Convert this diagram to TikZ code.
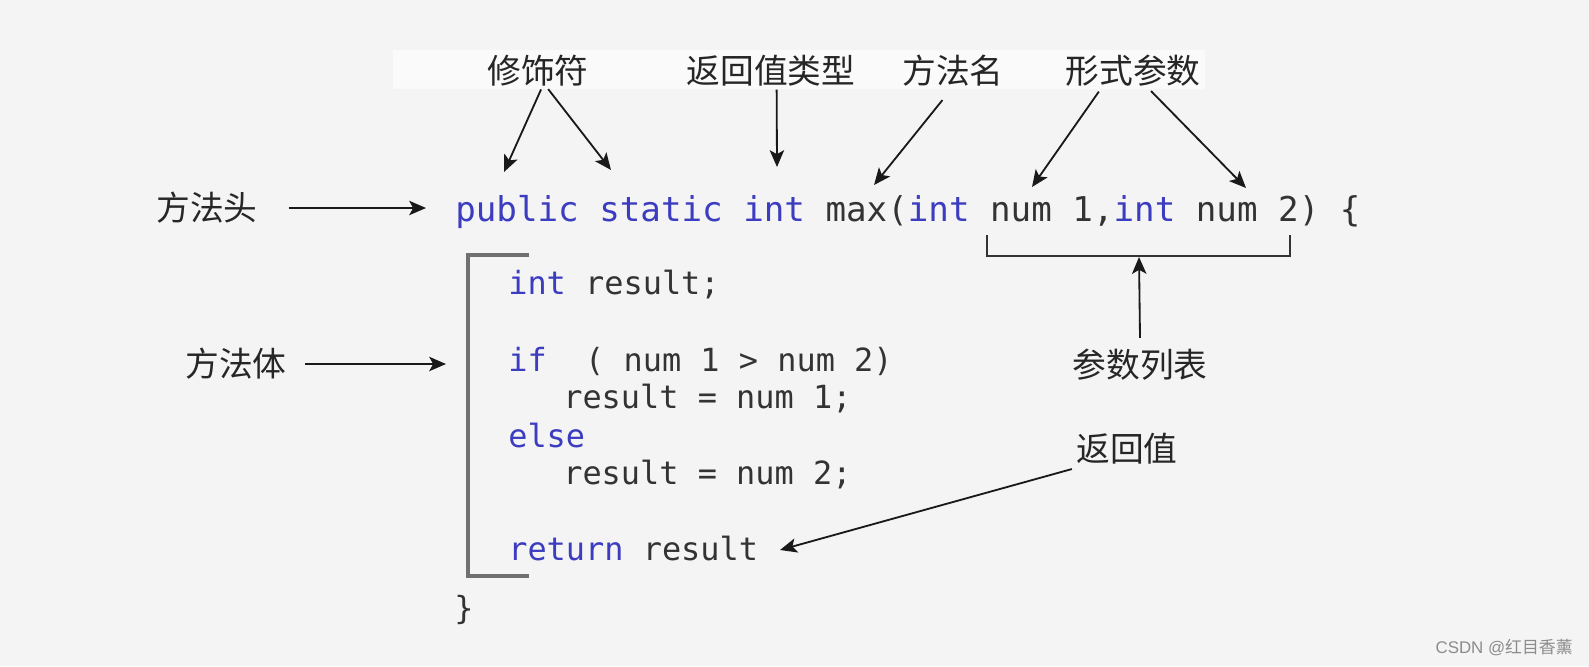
\documentclass[tikz,border=0pt]{standalone}
\usepackage{fontspec}
\setmonofont{DejaVu Sans Mono}
\newfontfamily\cjk{Noto Sans CJK SC}
\newfontfamily\wmfont{Liberation Sans}
\usetikzlibrary{arrows.meta}
\definecolor{bgcol}{RGB}{244,244,244}
\definecolor{bandcol}{RGB}{250,250,251}
\definecolor{kwcol}{RGB}{60,60,192}
\definecolor{txtcol}{RGB}{51,51,51}
\definecolor{brackcol}{RGB}{112,112,112}
\newcommand{\kw}[1]{\textcolor{kwcol}{#1}}

\begin{document}
\begin{tikzpicture}[
  x=0.025cm, y=-0.025cm,
  lbl/.style={font=\cjk\fontsize{24}{28}\selectfont, text=black!85, inner sep=0pt},
  headcode/.style={font=\ttfamily\fontsize{24.3}{28}\selectfont, text=txtcol, anchor=base west, inner sep=0pt},
  bodycode/.style={font=\ttfamily\fontsize{22.7}{26}\selectfont, text=txtcol, anchor=base west, inner sep=0pt},
  arr/.style={-{Stealth[length=4.2mm,width=3.6mm,inset=1mm]}, line width=1.3pt, black!90}
]%
  % Background
  \fill[bgcol] (0,0) rectangle (1589,666);
  \useasboundingbox (0,0) rectangle (1589,666);
  \fill[bandcol] (393,50) rectangle (1205,89);

  % Labels
  \node[lbl] (mod) at (538,71) {修饰符};
  \node[lbl] (rtype) at (771,71) {返回值类型};
  \node[lbl] (mname) at (953,71) {方法名};
  \node[lbl] (param) at (1133,71) {形式参数};
  \node[lbl] (mhead) at (207,208) {方法头};
  \node[lbl] (mbody) at (236,364) {方法体};
  \node[lbl] (plist) at (1140,365) {参数列表};
  \node[lbl] (retv) at (1127,449) {返回值};

  % Code
  \node[headcode] (head) at (455,221)
    {\kw{public} \kw{static} \kw{int} max(\kw{int} num 1,\kw{int} num 2) \{};
  \node[bodycode] (decl) at (508,294) {\kw{int} result;};
  \node[bodycode] (cond) at (508,371) {\kw{if}\ \ ( num 1 > num 2)};
  \node[bodycode] (then) at (563,408) {result = num 1;};
  \node[bodycode] (other) at (508,447) {\kw{else}};
  \node[bodycode] (alt) at (563,484) {result = num 2;};
  \node[bodycode] (ret) at (508,560) {\kw{return} result};
  \node[bodycode] (close) at (454,619) {\}};

  % Brackets
  \draw[brackcol, line width=2.5pt] (529,255) -- (468,255) -- (468,576) -- (529,576);
  \draw[line width=1.2pt, black!80] (987,235) -- (987,256) -- (1290,256) -- (1290,235);

  % Arrow tips
  \coordinate (pubtip) at (504,172);
  \coordinate (stattip) at (611,170);
  \coordinate (inttip) at (777,167);
  \coordinate (maxtip) at (874,185);
  \coordinate (num1tip) at (1032,187);
  \coordinate (num2tip) at (1246,188);
  \coordinate (headtip) at (426,208);
  \coordinate (bodytip) at (446,364);
  \coordinate (listtip) at (1139,257);
  \coordinate (rettip) at (780,550);

  % Arrows
  \draw[arr, shorten <=2pt] ([xshift=3pt]mod.south) -- (pubtip);
  \draw[arr, shorten <=2pt] ([xshift=6pt]mod.south) -- (stattip);
  \draw[arr, shorten <=2pt] ([xshift=4pt]rtype.south) -- (inttip);
  \draw[arr, shorten <=12pt] (mname.south) -- (maxtip);
  \draw[arr, shorten <=4pt] ([xshift=-22pt]param.south) -- (num1tip);
  \draw[arr, shorten <=4pt] ([xshift=10pt]param.south) -- (num2tip);
  \draw[arr] ([xshift=22pt]mhead.east) -- (mhead.east -| headtip);
  \draw[arr] ([xshift=13pt]mbody.east) -- (mbody.east -| bodytip);
  \draw[arr] ([yshift=8pt]plist.north) -- (listtip);
  \draw[arr] ([xshift=-3pt,yshift=-3pt]retv.south west) -- (rettip);

  % Watermark
  \node[anchor=east, font=\wmfont\fontsize{12}{14}\selectfont, text=black!45, inner sep=0pt]
    (mark) at (1573,648) {CSDN @{\cjk 红目香薰}};
\end{tikzpicture}
\end{document}
